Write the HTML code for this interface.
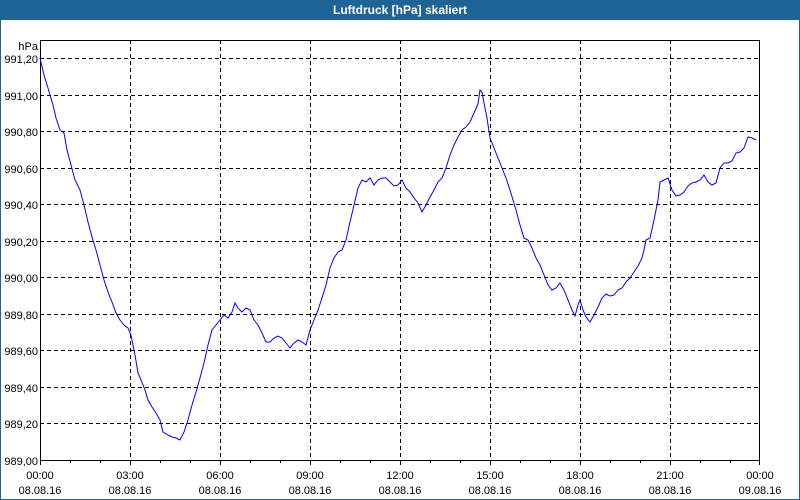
<!DOCTYPE html>
<html><head><meta charset="utf-8"><style>
html,body{margin:0;padding:0;background:#fff;}
svg{display:block;font-family:"Liberation Sans","DejaVu Sans",sans-serif;}
</style></head><body>
<svg width="800" height="500" xmlns="http://www.w3.org/2000/svg">
<rect x="0" y="0" width="800" height="500" fill="#fff"/>
<rect x="0.5" y="0.5" width="799" height="499" fill="none" stroke="#1e6496" stroke-width="1"/>
<rect x="0" y="0" width="800" height="20" fill="#1e6496"/>
<text x="400" y="14" fill="#fff" font-size="12" font-weight="bold" text-anchor="middle">Luftdruck [hPa] skaliert</text>
<g stroke="#000" stroke-dasharray="4,3" stroke-width="1">
<line x1="40" y1="58.5" x2="760" y2="58.5"/>
<line x1="40" y1="95.5" x2="760" y2="95.5"/>
<line x1="40" y1="131.5" x2="760" y2="131.5"/>
<line x1="40" y1="168.5" x2="760" y2="168.5"/>
<line x1="40" y1="204.5" x2="760" y2="204.5"/>
<line x1="40" y1="241.5" x2="760" y2="241.5"/>
<line x1="40" y1="277.5" x2="760" y2="277.5"/>
<line x1="40" y1="314.5" x2="760" y2="314.5"/>
<line x1="40" y1="350.5" x2="760" y2="350.5"/>
<line x1="40" y1="387.5" x2="760" y2="387.5"/>
<line x1="40" y1="423.5" x2="760" y2="423.5"/>
<line x1="130.5" y1="40" x2="130.5" y2="460"/>
<line x1="220.5" y1="40" x2="220.5" y2="460"/>
<line x1="310.5" y1="40" x2="310.5" y2="460"/>
<line x1="400.5" y1="40" x2="400.5" y2="460"/>
<line x1="490.5" y1="40" x2="490.5" y2="460"/>
<line x1="580.5" y1="40" x2="580.5" y2="460"/>
<line x1="670.5" y1="40" x2="670.5" y2="460"/>
</g>
<rect x="40.5" y="40.5" width="719" height="420" fill="none" stroke="#000" stroke-width="1"/>
<g stroke="#000" stroke-width="1">
<line x1="40.5" y1="460" x2="40.5" y2="465"/><line x1="70.5" y1="460" x2="70.5" y2="463"/><line x1="100.5" y1="460" x2="100.5" y2="463"/>
<line x1="130.5" y1="460" x2="130.5" y2="465"/><line x1="160.5" y1="460" x2="160.5" y2="463"/><line x1="190.5" y1="460" x2="190.5" y2="463"/>
<line x1="220.5" y1="460" x2="220.5" y2="465"/><line x1="250.5" y1="460" x2="250.5" y2="463"/><line x1="280.5" y1="460" x2="280.5" y2="463"/>
<line x1="310.5" y1="460" x2="310.5" y2="465"/><line x1="340.5" y1="460" x2="340.5" y2="463"/><line x1="370.5" y1="460" x2="370.5" y2="463"/>
<line x1="400.5" y1="460" x2="400.5" y2="465"/><line x1="430.5" y1="460" x2="430.5" y2="463"/><line x1="460.5" y1="460" x2="460.5" y2="463"/>
<line x1="490.5" y1="460" x2="490.5" y2="465"/><line x1="520.5" y1="460" x2="520.5" y2="463"/><line x1="550.5" y1="460" x2="550.5" y2="463"/>
<line x1="580.5" y1="460" x2="580.5" y2="465"/><line x1="610.5" y1="460" x2="610.5" y2="463"/><line x1="640.5" y1="460" x2="640.5" y2="463"/>
<line x1="670.5" y1="460" x2="670.5" y2="465"/><line x1="700.5" y1="460" x2="700.5" y2="463"/><line x1="730.5" y1="460" x2="730.5" y2="463"/>
<line x1="759.5" y1="460" x2="759.5" y2="465"/>
</g>
<g font-size="11" fill="#000" text-anchor="end">
<text x="38" y="50">hPa</text>
<text x="38" y="63">991,20</text>
<text x="38" y="100">991,00</text>
<text x="38" y="136">990,80</text>
<text x="38" y="173">990,60</text>
<text x="38" y="209">990,40</text>
<text x="38" y="246">990,20</text>
<text x="38" y="282">990,00</text>
<text x="38" y="319">989,80</text>
<text x="38" y="355">989,60</text>
<text x="38" y="392">989,40</text>
<text x="38" y="428">989,20</text>
<text x="38" y="465">989,00</text>
</g>
<g font-size="11" fill="#000" text-anchor="middle">
<text x="40" y="479">00:00</text><text x="40" y="494">08.08.16</text>
<text x="130" y="479">03:00</text><text x="130" y="494">08.08.16</text>
<text x="220" y="479">06:00</text><text x="220" y="494">08.08.16</text>
<text x="310" y="479">09:00</text><text x="310" y="494">08.08.16</text>
<text x="400" y="479">12:00</text><text x="400" y="494">08.08.16</text>
<text x="490" y="479">15:00</text><text x="490" y="494">08.08.16</text>
<text x="580" y="479">18:00</text><text x="580" y="494">08.08.16</text>
<text x="670" y="479">21:00</text><text x="670" y="494">08.08.16</text>
<text x="760" y="479">00:00</text><text x="760" y="494">09.08.16</text>
</g>
<polyline fill="none" stroke="#0000ff" stroke-width="1" points="40,58 44,75 48,88 50,95 53,105 56,118 60,130 64,133 67,150 71,165 75,180 80,190 84,205 88,222 92,237 96,250 100,265 104,280 108,292 112,302 116,313 120,320 124,325 128,328 131,335 135,355 138,373 141,380 145,390 148,400 152,407 156,413 160,420 163,432 168,435 172,437 176,438 180,440 184,432 188,420 192,405 196,392 200,378 204,363 208,345 212,330 216,325 220,320 224,315 228,318 232,312 235,303 238,308 242,312 246,308 250,310 254,320 258,325 262,333 266,342 270,342 274,338 278,336 282,338 286,343 290,348 294,343 298,340 302,342 306,345 310,330 314,320 318,310 322,298 326,285 330,268 334,258 338,252 342,250 346,240 350,222 354,205 358,188 362,180 366,182 370,178 374,185 378,180 382,178 386,178 390,182 394,186 398,185 402,180 406,188 410,192 414,198 418,203 422,212 426,205 430,197 434,190 438,182 442,178 446,168 450,155 454,145 458,137 462,130 466,127 470,122 474,113 478,104 480,90 482,92 484,103 487,118 490,138 494,148 498,158 502,168 506,178 510,190 513,200 516,210 520,225 524,238 528,240 532,248 536,258 540,265 544,275 548,285 552,290 556,288 560,283 564,290 568,300 572,310 575,316 578,305 580,300 583,310 586,317 590,322 594,315 598,307 602,298 606,294 610,296 614,295 618,290 622,288 626,282 630,278 634,272 638,266 642,258 644,250 646,240 650,238 654,220 658,200 660,182 664,180 668,178 672,190 676,196 680,195 684,192 688,186 692,183 696,182 700,180 704,175 708,182 712,185 716,183 720,168 724,163 728,163 732,161 736,153 740,152 744,148 748,137 752,138 756,140"/>
</svg>
</body></html>
